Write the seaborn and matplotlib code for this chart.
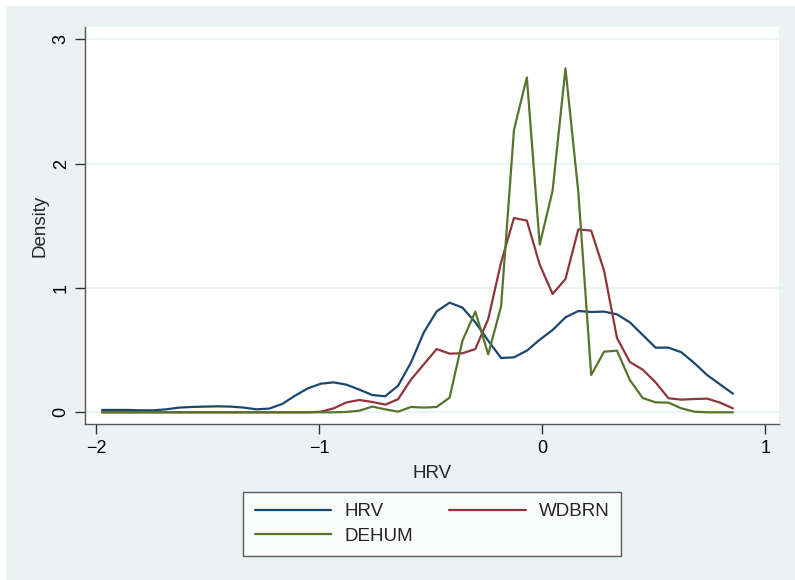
import numpy as np
import pandas as pd
import matplotlib
matplotlib.use("Agg")
import matplotlib.pyplot as plt
import seaborn as sns
from matplotlib.patches import Rectangle
from matplotlib.lines import Line2D

# evaluation grid (50 points, from -1.975 to 0.855)
x_grid = np.linspace(-1.975, 0.855, 50)

hrv = [0.019, 0.019, 0.019, 0.016, 0.016, 0.024, 0.038, 0.043, 0.046, 0.048,
       0.046, 0.038, 0.024, 0.030, 0.067, 0.134, 0.193, 0.230, 0.241, 0.222,
       0.182, 0.139, 0.129, 0.214, 0.400, 0.643, 0.812, 0.882, 0.842, 0.724,
       0.576, 0.437, 0.442, 0.496, 0.584, 0.662, 0.764, 0.815, 0.807, 0.810,
       0.788, 0.724, 0.622, 0.520, 0.520, 0.483, 0.397, 0.300, 0.225, 0.150]

wdbrn = [0, 0, 0, 0, 0, 0, 0, 0, 0, 0,
         0, 0, 0, 0, 0, 0, 0, 0.005, 0.032, 0.080,
         0.099, 0.083, 0.062, 0.105, 0.263, 0.386, 0.509, 0.472, 0.475, 0.509,
         0.750, 1.206, 1.563, 1.542, 1.188, 0.952, 1.072, 1.472, 1.461, 1.139,
         0.598, 0.405, 0.343, 0.241, 0.113, 0.102, 0.107, 0.110, 0.078, 0.032]

dehum = [0, 0, 0, 0, 0, 0, 0, 0, 0, 0,
         0, 0, 0, 0, 0, 0, 0, 0, 0, 0.003,
         0.013, 0.046, 0.024, 0.005, 0.043, 0.038, 0.043, 0.118, 0.576, 0.810,
         0.466, 0.853, 2.271, 2.694, 1.349, 1.783, 2.767, 1.769, 0.300, 0.488,
         0.496, 0.260, 0.115, 0.080, 0.078, 0.032, 0.005, 0, 0, 0]

series_names = ["HRV", "WDBRN", "DEHUM"]
x_ticks = [-2, -1, 0, 1]
y_ticks = [0, 1, 2, 3]

df = pd.concat([
    pd.DataFrame({"x": x_grid, "density": hrv, "series": "HRV"}),
    pd.DataFrame({"x": x_grid, "density": wdbrn, "series": "WDBRN"}),
    pd.DataFrame({"x": x_grid, "density": dehum, "series": "DEHUM"}),
])

colors = {"HRV": "#1a476f", "WDBRN": "#90353b", "DEHUM": "#55752f"}
bg = "#eaf2f3"
font = ["Liberation Sans", "DejaVu Sans"]

sns.set_theme(style="white")
plt.rcParams["font.family"] = font

W, H = 795, 580
fig = plt.figure(figsize=(W / 100, H / 100), dpi=100, facecolor=bg)
# white border strip at top and left
fig.patches.append(Rectangle((0, 1 - 6 / H), 1, 6 / H, transform=fig.transFigure,
                             facecolor="white", edgecolor="none", zorder=0))
fig.patches.append(Rectangle((0, 0), 6 / W, 1, transform=fig.transFigure,
                             facecolor="white", edgecolor="none", zorder=0))

ax_l, ax_r, ax_t, ax_b = 85, 779, 26.7, 424.3
ax = fig.add_axes([ax_l / W, 1 - ax_b / H, (ax_r - ax_l) / W, (ax_b - ax_t) / H])
ax.set_facecolor("white")

sns.lineplot(data=df, x="x", y="density", hue="series", palette=colors,
             hue_order=series_names, linewidth=1.6, ax=ax, legend=False,
             estimator=None, sort=False, zorder=3)

ax.set_xlim(-2.051, 1.062)
ax.set_ylim(-0.0965, 3.102)
ax.set_xticks(x_ticks)
ax.set_yticks(y_ticks)
ax.set_xticklabels(["\u22122", "\u22121", "0", "1"], fontsize=13)
ax.set_yticklabels([str(v) for v in y_ticks], fontsize=13, rotation=90, va="center")
ax.grid(axis="y", color=bg, linewidth=1.3, zorder=0)
ax.grid(axis="x", visible=False)
for s in ["top", "right"]:
    ax.spines[s].set_visible(False)
for s in ["left", "bottom"]:
    ax.spines[s].set_color("#555555")
    ax.spines[s].set_linewidth(1.0)
ax.tick_params(axis="both", direction="out", length=7, width=1.0, color="#333333",
               labelcolor="black", pad=4)
ax.tick_params(axis="x", bottom=True)
ax.tick_params(axis="y", left=True)
ax.set_xlabel("HRV", fontsize=13.5, labelpad=6)
ax.set_ylabel("Density", fontsize=13.5, labelpad=3)

# legend box (row order: HRV, WDBRN / DEHUM)
order = ["HRV", "DEHUM", "WDBRN"]
handles = [Line2D([], [], color=colors[n], linewidth=1.6) for n in order]
leg = fig.legend(handles, order, loc="center",
                 bbox_to_anchor=((243 + 621) / 2 / W, 1 - (491 + 557) / 2 / H),
                 ncol=2, frameon=True, fontsize=13.5, handlelength=4.1,
                 columnspacing=1.9, handletextpad=0.7, borderpad=0.6,
                 labelspacing=0.4, fancybox=False)
leg.get_frame().set_edgecolor("#333333")
leg.get_frame().set_linewidth(1.0)
leg.get_frame().set_facecolor("white")

fig.savefig("out.png", dpi=100, facecolor=bg)
